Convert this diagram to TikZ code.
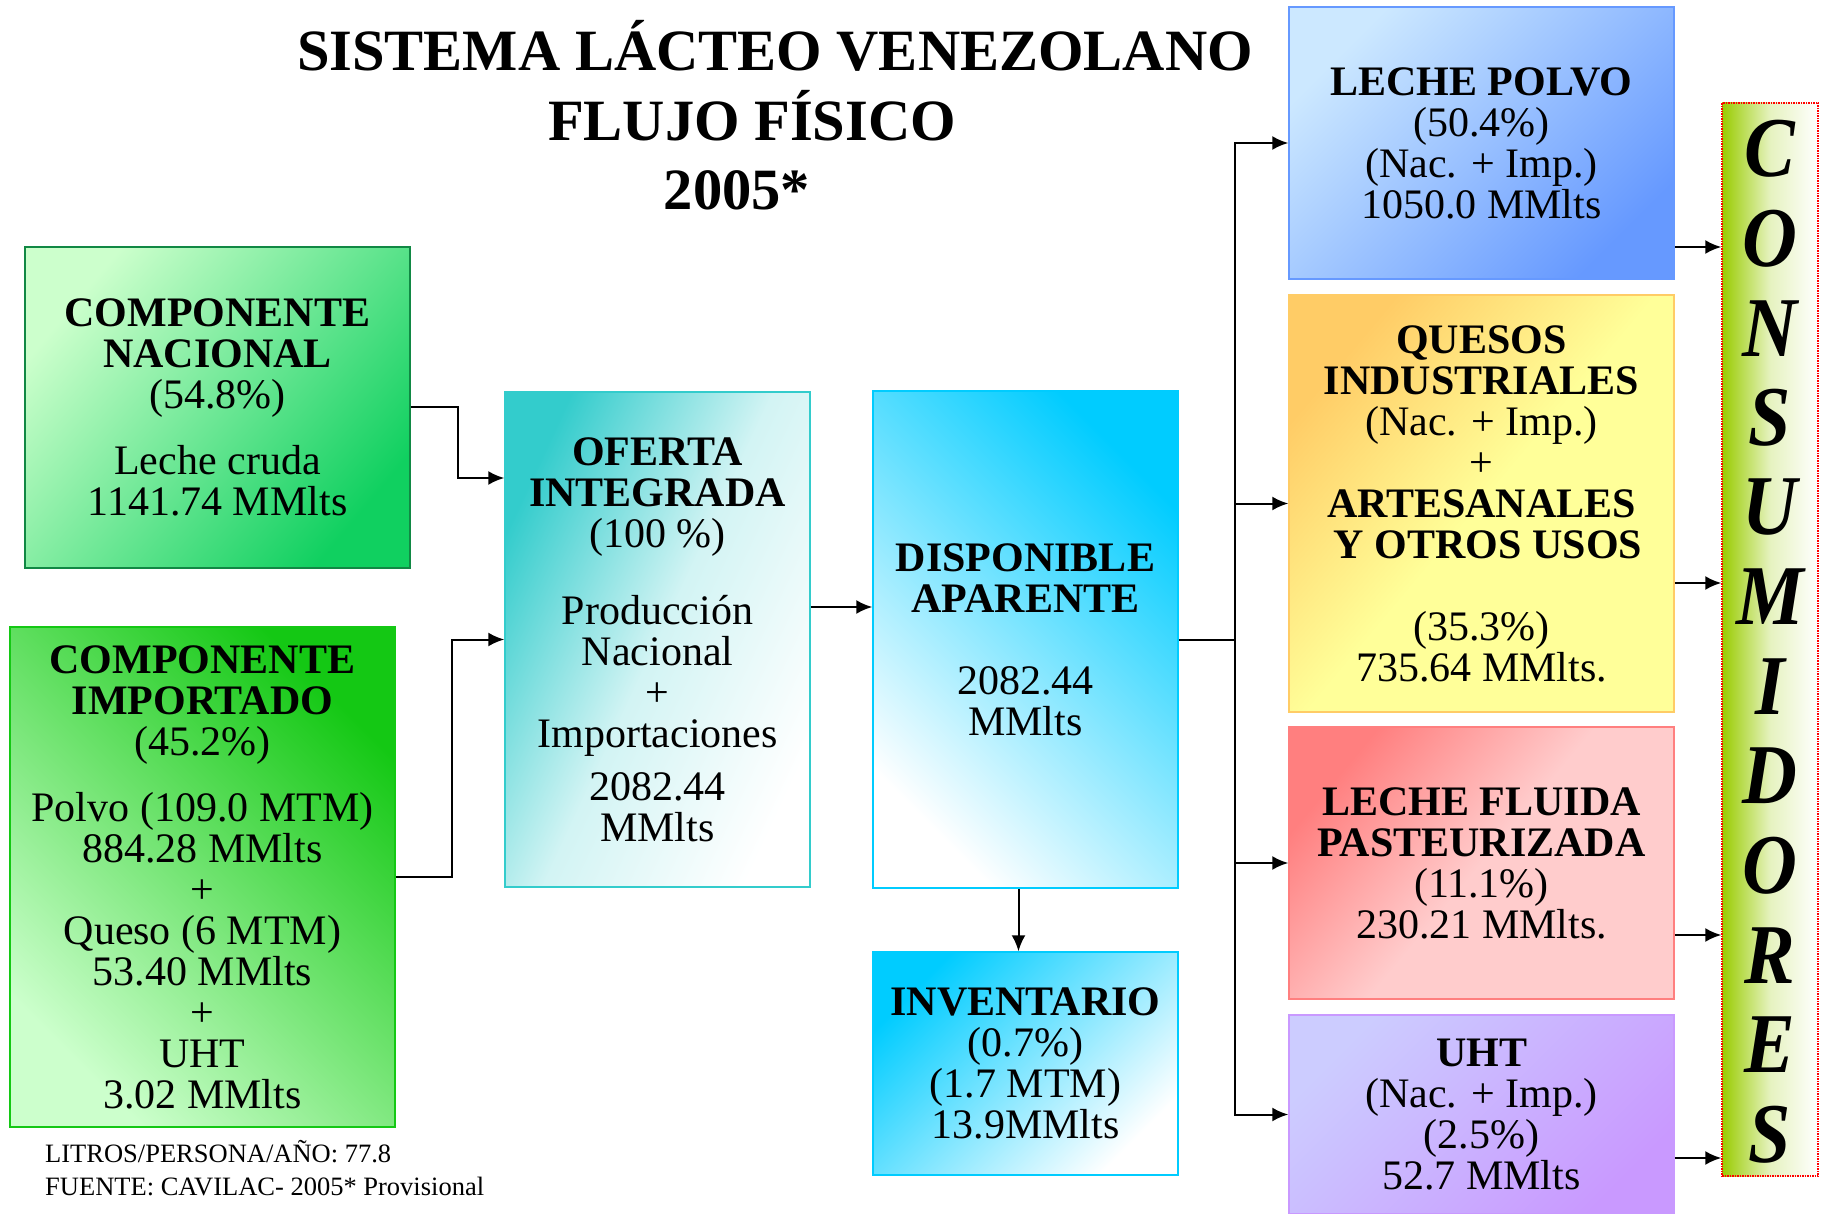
\documentclass[tikz,border=0pt]{standalone}
\usepackage{fontspec}
\setmainfont{Liberation Serif}
\usetikzlibrary{arrows.meta}

\definecolor{naclight}{HTML}{CCFFCC}
\definecolor{nacdark}{HTML}{10D060}
\definecolor{nacline}{HTML}{118844}
\definecolor{impdark}{HTML}{14C814}
\definecolor{teal}{HTML}{33CCCC}
\definecolor{sky}{HTML}{00CCFF}
\definecolor{polvolight}{HTML}{CCE8FF}
\definecolor{polvodark}{HTML}{6699FF}
\definecolor{quesoorange}{HTML}{FFCC66}
\definecolor{quesoyellow}{HTML}{FFFF99}
\definecolor{fluidared}{HTML}{FF7F7F}
\definecolor{fluidapink}{HTML}{FFCCCC}
\definecolor{uhtlight}{HTML}{CCCCFF}
\definecolor{uhtdark}{HTML}{C999FF}
\definecolor{congreen}{HTML}{99CC00}

\begin{document}
\begin{tikzpicture}
[
  x=1pt, y=-1pt,
  >={Latex[length=16pt,width=14pt]},
  box/.style = {draw, line width=1.5pt, minimum width=305pt, inner sep=0pt, align=center, font=\fontsize{42}{41}\selectfont},
  wide/.style = {box, minimum width=385pt},
  link/.style = {line width=2pt},
  title/.style = {anchor=base, inner sep=0pt, font=\fontsize{58.5}{69}\selectfont\bfseries},
  letter/.style = {inner sep=0pt, font=\fontsize{76}{76}\selectfont\bfseries\itshape},
]
\useasboundingbox (0,0) rectangle (1824,1214);

\node (tit1) at (775,71) [title] {SISTEMA LÁCTEO VENEZOLANO};
\node (tit2) at (752,141) [title] {FLUJO FÍSICO};
\node (tit3) at (737,210) [title] {2005*};

\node (nac) at (217.5,407.5) [wide, minimum height=321pt, draw=nacline, top color=naclight, bottom color=nacdark, shading angle=50]
  {\textbf{COMPONENTE}\\\textbf{NACIONAL}\\(54.8\%)\\[25pt]Leche cruda\\1141.74 MMlts};
\node (imp) at (202.5,877) [wide, minimum height=500pt, draw=impdark, top color=impdark, bottom color=naclight, shading angle=-45]
  {\textbf{COMPONENTE}\\\textbf{IMPORTADO}\\(45.2\%)\\[25pt]Polvo (109.0 MTM)\\884.28 MMlts\\+\\Queso (6 MTM)\\53.40 MMlts\\+\\UHT\\3.02 MMlts};
\node (ofe) at (657.5,639.5) [box, minimum height=495pt, draw=teal, top color=teal, bottom color=white, middle color=teal!22, shading angle=65]
  {\textbf{OFERTA}\\\textbf{INTEGRADA}\\(100 \%)\\[36pt]Producción\\Nacional\\+\\Importaciones\\[12pt]2082.44\\MMlts};
\node (dis) at (1025.5,639.5) [box, minimum height=497pt, draw=sky, top color=sky, bottom color=white, shading angle=-45]
  {\textbf{DISPONIBLE}\\\textbf{APARENTE}\\[41pt]2082.44\\MMlts};
\node (inv) at (1025.5,1063.5) [box, minimum height=223pt, draw=sky, top color=sky, bottom color=white, shading angle=45]
  {\textbf{INVENTARIO}\\(0.7\%)\\(1.7 MTM)\\13.9MMlts};

\node (pol) at (1481.5,143) [wide, minimum height=272pt, draw=polvodark, top color=polvolight, bottom color=polvodark, shading angle=45]
  {\textbf{LECHE POLVO}\\(50.4\%)\\(Nac. + Imp.)\\1050.0 MMlts};
\node (que) at (1481.5,503.5) [wide, minimum height=417pt, draw=quesoorange, top color=quesoorange, bottom color=quesoyellow, middle color=quesoyellow, shading angle=50]
  {\textbf{QUESOS}\\\textbf{INDUSTRIALES}\\(Nac. + Imp.)\\+\\\textbf{ARTESANALES}\\\hspace*{13pt}\textbf{Y OTROS USOS}\\[41pt](35.3\%)\\735.64 MMlts.};
\node (flu) at (1481.5,863) [wide, minimum height=272pt, draw=fluidared, top color=fluidared, bottom color=fluidapink, middle color=fluidapink, shading angle=50]
  {\textbf{LECHE FLUIDA}\\\textbf{PASTEURIZADA}\\(11.1\%)\\230.21 MMlts.};
\node (uht) at (1481.5,1114.5) [wide, minimum height=199pt, draw=uhtdark, top color=uhtlight, bottom color=uhtdark, shading angle=45]
  {\textbf{UHT}\\(Nac. + Imp.)\\(2.5\%)\\52.7 MMlts};

\node (con) at (1770,639.5) [draw=red, densely dotted, line width=1.5pt, minimum width=96pt, minimum height=1073pt, left color=congreen, right color=white, middle color=congreen!25] {};
\foreach \l [count=\i from 0] in {C,O,N,S,U,M,I,D,O,R,E,S}
  \node (c\i) at (1770,149+89.6*\i) [letter] {\scalebox{1}[1.12]{\l}};

\node (nota) at (45,1168) [anchor=west, align=left, inner sep=0pt, font=\fontsize{26.5}{33}\selectfont]
  {LITROS/PERSONA/AÑO: 77.8\\FUENTE: CAVILAC- 2005* Provisional};

\draw[->, link] (nac.east) -- ++(47,0) |- ([yshift=161.5pt]ofe.west);
\draw[->, link] (imp.east) -- ++(56,0) |- (ofe.west);
\draw[->, link] ([yshift=32.5pt]ofe.east) -- ([yshift=32.5pt]dis.west);
\draw[link] (dis.east) -- ++(56,0) coordinate (bus);
\foreach \t in {pol,que,flu,uht}
  \draw[->, link] (bus) |- (\t.west);
\draw[->, link] ([xshift=-7pt]dis.south) -- ([xshift=-7pt]inv.north);
\foreach \b/\d in {pol/-104,que/-79.5,flu/-72,uht/-43.5}
{
  \coordinate (o\b) at ([yshift=\d pt]\b.east);
  \draw[->, link] (o\b) -- (o\b -| con.west);
}

\end{tikzpicture}
\end{document}
